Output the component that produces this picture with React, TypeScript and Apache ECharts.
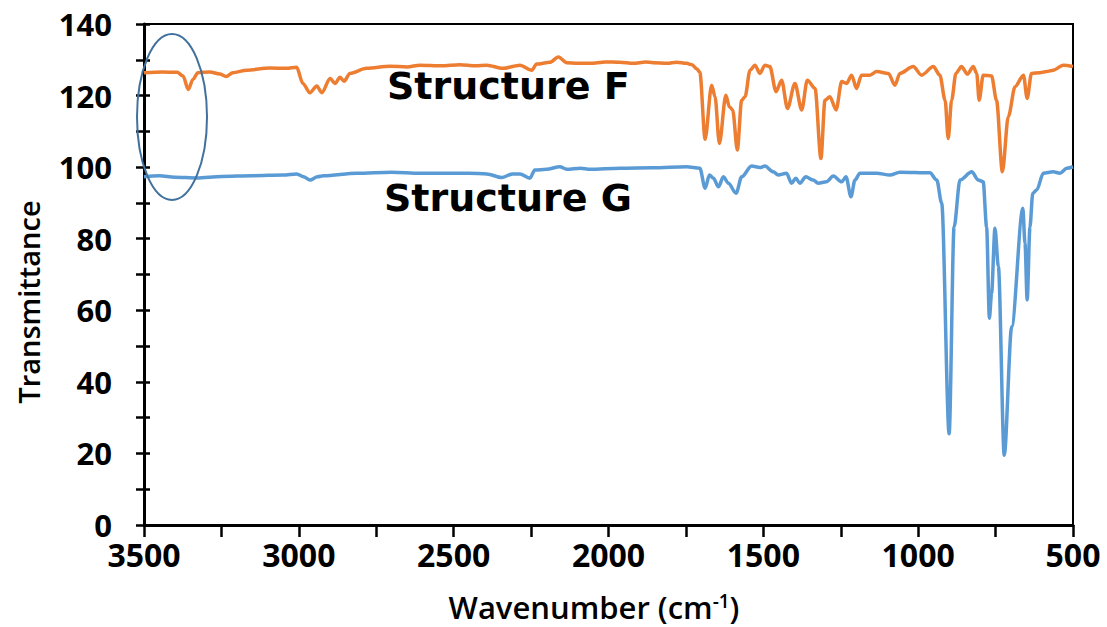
import React, { useEffect, useRef } from "react";
import * as echarts from "echarts";

// FT-IR spectrum of Structure F (wavenumber in cm-1, transmittance)
const wavenumbersF = [
  3500, 3440, 3393, 3374, 3357, 3342, 3326, 3287, 3255, 3235, 3213, 3168, 3093, 3040, 3007,
  2987, 2964, 2942, 2926, 2899, 2883, 2867, 2854, 2835, 2781, 2706, 2650, 2609, 2540, 2480,
  2430, 2393, 2341, 2286, 2248, 2232, 2189, 2162, 2135, 2100, 2060, 2010, 1963, 1920, 1880,
  1856, 1810, 1780, 1748, 1730, 1715, 1705, 1688, 1667, 1656, 1642, 1621, 1610, 1599, 1584,
  1570, 1559, 1543, 1527, 1511, 1495, 1479, 1459, 1441, 1422, 1398, 1376, 1358, 1333, 1314,
  1301, 1285, 1265, 1247, 1231, 1215, 1199, 1183, 1156, 1134, 1096, 1075, 1059, 1016, 989,
  951, 930, 913, 903, 892, 878, 860, 841, 822, 811, 803, 790, 763, 747, 728,
  709, 687, 660, 648, 634, 607, 585, 564, 531, 500,
];
const transmittanceF = [
  126.4, 126.6, 126.5, 125.5, 121.7, 124.5, 126.4, 126.6, 126.0, 125.3, 126.4, 127.1, 127.7, 127.6, 127.9,
  123.4, 120.8, 122.7, 120.8, 124.8, 123.4, 125.1, 124.0, 126.2, 127.6, 128.2, 128.0, 128.5, 128.3, 128.6,
  128.3, 128.5, 127.6, 128.5, 127.1, 128.8, 129.3, 130.8, 129.2, 129.0, 129.0, 129.4, 129.3, 129.0, 129.4,
  129.2, 129.0, 129.3, 129.0, 128.6, 127.5, 126.5, 107.8, 122.9, 119.7, 106.6, 120.1, 116.9, 116.0, 104.8,
  118.7, 119.7, 127.1, 128.5, 126.2, 128.5, 128.1, 121.1, 124.3, 116.4, 123.4, 116.0, 124.3, 122.0, 102.4,
  118.7, 119.7, 116.0, 123.9, 123.4, 125.7, 122.0, 125.7, 125.7, 126.7, 126.2, 122.9, 126.2, 128.1, 125.7,
  128.1, 125.7, 118.7, 108.0, 118.7, 126.2, 128.1, 126.0, 128.1, 126.2, 118.7, 125.7, 125.5, 118.7, 98.7,
  114.1, 122.5, 125.7, 119.2, 126.2, 126.4, 126.7, 127.1, 128.5, 128.1,
];

// FT-IR spectrum of Structure G
const wavenumbersG = [
  3500, 3450, 3400, 3330, 3250, 3150, 3050, 3007, 2985, 2964, 2940, 2920, 2813, 2700, 2609,
  2450, 2393, 2345, 2310, 2286, 2254, 2238, 2200, 2157, 2135, 2090, 2060, 1963, 1856, 1748,
  1705, 1688, 1674, 1661, 1645, 1629, 1613, 1588, 1570, 1538, 1511, 1495, 1468, 1452, 1425,
  1409, 1395, 1382, 1363, 1339, 1323, 1296, 1274, 1247, 1233, 1217, 1204, 1188, 1134, 1091,
  1059, 962, 940, 924, 900, 884, 865, 827, 806, 790, 779, 770, 763, 752, 741,
  722, 698, 662, 655, 648, 639, 630, 617, 596, 564, 542, 520, 500,
];
const transmittanceG = [
  97.3, 97.6, 97.2, 97.0, 97.4, 97.6, 97.8, 98.1, 97.3, 96.4, 97.3, 97.6, 98.3, 98.6, 98.3,
  98.3, 98.1, 97.1, 98.1, 98.1, 96.9, 99.2, 99.4, 100.1, 99.4, 99.7, 99.4, 99.7, 99.8, 100.1,
  99.7, 94.1, 97.8, 96.9, 94.5, 97.3, 95.5, 92.7, 97.3, 100.3, 99.9, 100.3, 98.7, 97.8, 98.3,
  95.5, 96.9, 95.5, 97.3, 96.4, 95.5, 95.9, 97.5, 95.9, 97.3, 91.7, 96.4, 98.3, 98.3, 97.8,
  98.6, 98.4, 96.4, 89.9, 25.5, 83.3, 96.4, 98.7, 96.4, 95.9, 83.3, 57.8, 64.7, 82.9, 72.2,
  19.5, 55.4, 88.5, 78.7, 62.9, 83.3, 92.7, 93.6, 98.3, 98.7, 98.3, 99.7, 100.1,
];

const yTickValues = [0, 20, 40, 60, 80, 100, 120, 140];
const xTickValues = [3500, 3000, 2500, 2000, 1500, 1000, 500];

const pair = (xs: number[], ys: number[]) => xs.map((x, i) => [x, ys[i]]);

const TICK_FONT = "'Open Sans', 'Liberation Sans', sans-serif";
const LABEL_FONT = "bold 38px 'DejaVu Sans', sans-serif";

export default function App() {
  const ref = useRef<HTMLDivElement>(null);

  useEffect(() => {
    if (!ref.current) return;
    const chart = echarts.init(ref.current, null, { renderer: "svg" });
    chart.setOption({
      animation: false,
      backgroundColor: "#ffffff",
      grid: {
        left: 144,
        right: 34,
        top: 24,
        bottom: 102,
        show: true,
        borderColor: "#000",
        borderWidth: 2,
        containLabel: false,
      },
      xAxis: {
        type: "value",
        min: 500,
        max: 3500,
        interval: 250,
        inverse: true,
        axisLine: { show: true, lineStyle: { color: "#000", width: 3 } },
        axisTick: { show: true, length: 12, lineStyle: { color: "#000", width: 2.5 } },
        axisLabel: {
          margin: 13,
          color: "#000",
          fontFamily: TICK_FONT,
          fontWeight: "bold",
          fontSize: 32,
          formatter: (v: number) => (xTickValues.includes(v) ? String(v) : ""),
        },
        splitLine: { show: false },
      },
      yAxis: [
        {
          type: "value",
          min: 0,
          max: 140,
          interval: 10,
          position: "left",
          axisLine: { show: true, lineStyle: { color: "#000", width: 3 } },
          axisTick: { show: true, length: 8, lineStyle: { color: "#000", width: 2.5 } },
          axisLabel: {
            margin: 32,
            color: "#000",
            fontFamily: TICK_FONT,
            fontWeight: "bold",
            fontSize: 31,
            formatter: (v: number) => (yTickValues.includes(v) ? String(v) : ""),
          },
          splitLine: { show: false },
        },
        {
          type: "value",
          min: 0,
          max: 140,
          interval: 10,
          position: "left",
          offset: 0,
          axisLine: { show: false },
          axisTick: { show: true, inside: true, length: 6, lineStyle: { color: "#000", width: 2.5 } },
          axisLabel: { show: false },
          splitLine: { show: false },
        },
      ],
      series: [
        {
          name: "Structure F",
          type: "line",
          data: pair(wavenumbersF, transmittanceF),
          showSymbol: false,
          smooth: 0.3,
          smoothMonotone: "x",
          lineStyle: { color: "#ED7D31", width: 3.5, join: "round" },
          itemStyle: { color: "#ED7D31" },
        },
        {
          name: "Structure G",
          type: "line",
          data: pair(wavenumbersG, transmittanceG),
          showSymbol: false,
          smooth: 0.3,
          smoothMonotone: "x",
          lineStyle: { color: "#5B9BD5", width: 3.5, join: "round" },
          itemStyle: { color: "#5B9BD5" },
        },
      ],
      graphic: [
        {
          type: "ellipse",
          shape: { cx: 172, cy: 117, rx: 35, ry: 83 },
          style: { fill: "none", stroke: "#41719C", lineWidth: 2 },
          z: 10,
        },
        {
          type: "text",
          x: 387,
          y: 86,
          style: {
            text: "Structure F",
            font: LABEL_FONT,
            fill: "#000",
            verticalAlign: "middle",
          },
          z: 10,
        },
        {
          type: "text",
          x: 384,
          y: 198,
          style: {
            text: "Structure G",
            font: LABEL_FONT,
            fill: "#000",
            verticalAlign: "middle",
          },
          z: 10,
        },
        {
          type: "text",
          x: 28,
          y: 302,
          rotation: Math.PI / 2,
          style: {
            text: "Transmittance",
            font: "600 29px 'Open Sans', sans-serif",
            fill: "#000",
            align: "center",
            verticalAlign: "middle",
          },
        },
        {
          type: "text",
          x: 594,
          y: 607,
          style: {
            text: "Wavenumber (cm{s|-1})",
            font: "600 31px 'Open Sans', sans-serif",
            fill: "#000",
            align: "center",
            verticalAlign: "middle",
            rich: {
              s: {
                font: "600 19px 'Open Sans', sans-serif",
                fill: "#000",
                verticalAlign: "top",
              },
            },
          },
        },
      ],
    });
    return () => chart.dispose();
  }, []);

  return (
    <div
      ref={ref}
      style={{ position: "fixed", left: 0, top: 0, width: 1107, height: 627, background: "#fff" }}
    />
  );
}
